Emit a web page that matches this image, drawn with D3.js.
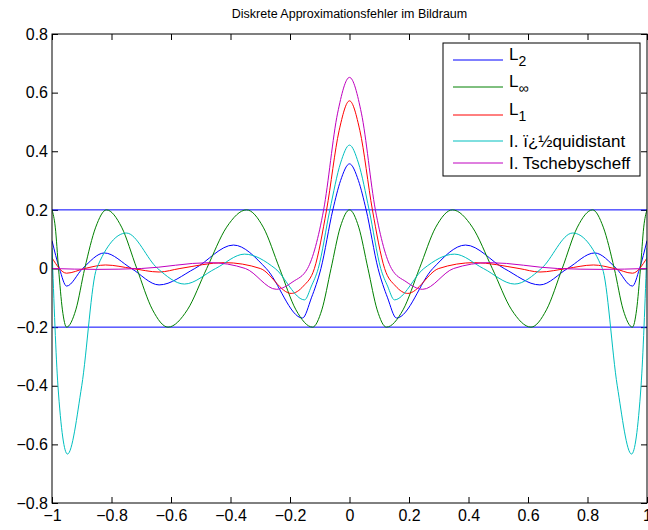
<!DOCTYPE html>
<html>
<head>
<meta charset="utf-8">
<script src="https://cdn.jsdelivr.net/npm/d3@7"></script>
<style>
  body { margin: 0; background: #fff; }
  svg { display: block; font-family: "Liberation Sans", Arial, Helvetica, sans-serif; }
</style>
</head>
<body>
<div id="container"></div>
<script>
// ******* Data *******
var xTicks = [-1, -0.8, -0.6, -0.4, -0.2, 0, 0.2, 0.4, 0.6, 0.8, 1];
var yTicks = [-0.8, -0.6, -0.4, -0.2, 0, 0.2, 0.4, 0.6, 0.8];
var bounds = [-0.2, 0.2]; // the two horizontal blue lines

var l2_x = [-1, -0.975, -0.951, -0.897, -0.824, -0.733, -0.64, -0.52, -0.39, -0.28, -0.158, -0.128, -0.096, -0.056, -0.03, 0,
  0.03, 0.056, 0.096, 0.128, 0.158, 0.28, 0.39, 0.52, 0.64, 0.733, 0.824, 0.897, 0.951, 0.975, 1];
var l2_y = [0.095, 0, -0.06, 0, 0.053, 0, -0.056, 0, 0.08, 0, -0.169, -0.1, 0, 0.2, 0.3, 0.357,
  0.3, 0.2, 0, -0.1, -0.169, 0, 0.08, 0, -0.056, 0, 0.053, 0, -0.06, 0, 0.095];

var linf_x = [-1, -0.989, -0.978, -0.965, -0.951, -0.92, -0.89, -0.853, -0.817, -0.766, -0.715, -0.662, -0.61,
  -0.545, -0.48, -0.413, -0.346, -0.29, -0.235, -0.18, -0.124, -0.093, -0.062, -0.031, 0,
  0.031, 0.062, 0.093, 0.124, 0.18, 0.235, 0.29, 0.346, 0.413, 0.48, 0.545, 0.61, 0.662, 0.715,
  0.766, 0.817, 0.853, 0.89, 0.92, 0.951, 0.965, 0.978, 0.989, 1];
var linf_y = [0.2, 0.141, 0, -0.141, -0.2, -0.141, 0, 0.141, 0.2, 0.141, 0, -0.141, -0.2,
  -0.141, 0, 0.141, 0.2, 0.141, 0, -0.141, -0.2, -0.141, 0, 0.141, 0.2,
  0.141, 0, -0.141, -0.2, -0.141, 0, 0.141, 0.2, 0.141, 0, -0.141, -0.2, -0.141, 0,
  0.141, 0.2, 0.141, 0, -0.141, -0.2, -0.141, 0, 0.141, 0.2];

var l1_x = [-1, -0.951, -0.89, -0.82, -0.73, -0.64, -0.57, -0.42, -0.3, -0.196, -0.155, -0.118, -0.077, -0.035, 0,
  0.035, 0.077, 0.118, 0.155, 0.196, 0.3, 0.42, 0.57, 0.64, 0.73, 0.82, 0.89, 0.951, 1];
var l1_y = [0.036, -0.016, 0, 0.012, 0, -0.012, 0, 0.02, 0, -0.085, -0.06, 0, 0.2, 0.47, 0.572,
  0.47, 0.2, 0, -0.06, -0.085, 0, 0.02, 0, -0.012, 0, 0.012, 0, -0.016, 0.036];

var equi_x = [-1, -0.98, -0.948, -0.9, -0.85, -0.75, -0.645, -0.555, -0.45, -0.353, -0.25, -0.151, -0.128, -0.105, -0.066, -0.03, 0,
  0.03, 0.066, 0.105, 0.128, 0.151, 0.25, 0.353, 0.45, 0.555, 0.645, 0.75, 0.85, 0.9, 0.948, 0.98, 1];
var equi_y = [0.07, -0.4, -0.633, -0.4, 0, 0.121, 0, -0.053, 0, 0.049, 0, -0.107, -0.06, 0, 0.2, 0.36, 0.421,
  0.36, 0.2, 0, -0.06, -0.107, 0, 0.049, 0, -0.053, 0, 0.121, 0, -0.4, -0.633, -0.4, 0.07];

var cheb_x = [-1, -0.85, -0.7, -0.47, -0.35, -0.246, -0.19, -0.141, -0.087, -0.04, 0,
  0.04, 0.087, 0.141, 0.19, 0.246, 0.35, 0.47, 0.7, 0.85, 1];
var cheb_y = [0, -0.003, 0, 0.02, 0, -0.071, -0.045, 0, 0.2, 0.53, 0.652,
  0.53, 0.2, 0, -0.045, -0.071, 0, 0.02, 0, -0.003, 0];

var seriesNames = ["L2", "Linf", "L1", "equi", "cheb"];
var seriesColors = ["#0000ff", "#008000", "#ff0000", "#00bfbf", "#bf00bf"];
var seriesX = [l2_x, linf_x, l1_x, equi_x, cheb_x];
var seriesY = [l2_y, linf_y, l1_y, equi_y, cheb_y];

// ******* Layout *******
var width = 648, height = 530;
var pLeft = 52, pRight = 647, pTop = 34, pBottom = 503;
var tickFont = "16px";

var svg = d3.select("#container").append("svg")
  .attr("width", width)
  .attr("height", height);

var x = d3.scaleLinear().domain([-1, 1]).range([pLeft, pRight]);
var y = d3.scaleLinear().domain([-0.8, 0.8]).range([pBottom, pTop]);
var fmt = d3.format("~g");

svg.append("defs").append("clipPath").attr("id", "plotclip")
  .append("rect").attr("x", pLeft).attr("y", pTop).attr("width", pRight - pLeft).attr("height", pBottom - pTop);

// ******* Axes (MATLAB style, ticks inside on all four sides) *******
var axB = svg.append("g").attr("transform", "translate(0," + pBottom + ")")
  .call(d3.axisBottom(x).tickValues(xTicks).tickFormat(fmt).tickSize(-6).tickPadding(7));
var axT = svg.append("g").attr("transform", "translate(0," + pTop + ")")
  .call(d3.axisTop(x).tickValues(xTicks).tickFormat("").tickSize(-6));
var axL = svg.append("g").attr("transform", "translate(" + pLeft + ",0)")
  .call(d3.axisLeft(y).tickValues(yTicks).tickFormat(fmt).tickSize(-6).tickPadding(4));
var axR = svg.append("g").attr("transform", "translate(" + pRight + ",0)")
  .call(d3.axisRight(y).tickValues(yTicks).tickFormat("").tickSize(-6));

[axB, axT, axL, axR].forEach(function(g) {
  g.select(".domain").remove();
  g.selectAll("line").attr("stroke", "#000");
  g.selectAll("text").attr("fill", "#000").style("font-size", tickFont)
    .style("font-family", "'Liberation Sans', Arial, sans-serif");
});

// ******* Curves *******
var plot = svg.append("g").attr("clip-path", "url(#plotclip)");

bounds.forEach(function(b) {
  plot.append("line")
    .attr("x1", x(-1)).attr("x2", x(1))
    .attr("y1", y(b)).attr("y2", y(b))
    .attr("stroke", "#0000ff").attr("stroke-width", 1);
});

var line = d3.line()
  .x(function(d) { return x(d[0]); })
  .y(function(d) { return y(d[1]); })
  .curve(d3.curveMonotoneX);

seriesNames.forEach(function(name, i) {
  var pts = seriesX[i].map(function(v, j) { return [v, seriesY[i][j]]; });
  plot.append("path")
    .datum(pts)
    .attr("fill", "none")
    .attr("stroke", seriesColors[i])
    .attr("stroke-width", 1)
    .attr("d", line);
});

// frame
svg.append("rect")
  .attr("x", pLeft).attr("y", pTop)
  .attr("width", pRight - pLeft).attr("height", pBottom - pTop)
  .attr("fill", "none").attr("stroke", "#000").attr("stroke-width", 1);

// title
svg.append("text")
  .attr("x", (pLeft + pRight) / 2)
  .attr("y", 18)
  .attr("text-anchor", "middle")
  .style("font-size", "12.5px")
  .text("Diskrete Approximationsfehler im Bildraum");

// ******* Legend *******
var legend = svg.append("g");
legend.append("rect")
  .attr("x", 443).attr("y", 43).attr("width", 197).attr("height", 133)
  .attr("fill", "#fff").attr("stroke", "#000").attr("stroke-width", 1);

var legendRows = [60, 87, 115, 141, 163];
var legendLabels = [
  { main: "L", sub: "2" },
  { main: "L", sub: "\u221e" },
  { main: "L", sub: "1" },
  { main: "I. \u00ef\u00bf\u00bdquidistant", sub: "" },
  { main: "I. Tschebyscheff", sub: "" }
];

legendLabels.forEach(function(lab, i) {
  var ly = legendRows[i];
  legend.append("line")
    .attr("x1", 453).attr("x2", 503)
    .attr("y1", ly).attr("y2", ly)
    .attr("stroke", seriesColors[i]).attr("stroke-width", 1);
  var t = legend.append("text")
    .attr("x", 509)
    .attr("y", lab.sub ? ly : ly + 6)
    .style("font-size", "17px");
  t.append("tspan").text(lab.main);
  if (lab.sub) {
    t.append("tspan").attr("dy", "0.45em").style("font-size", "14px").text(lab.sub);
  }
});
</script>
</body>
</html>
